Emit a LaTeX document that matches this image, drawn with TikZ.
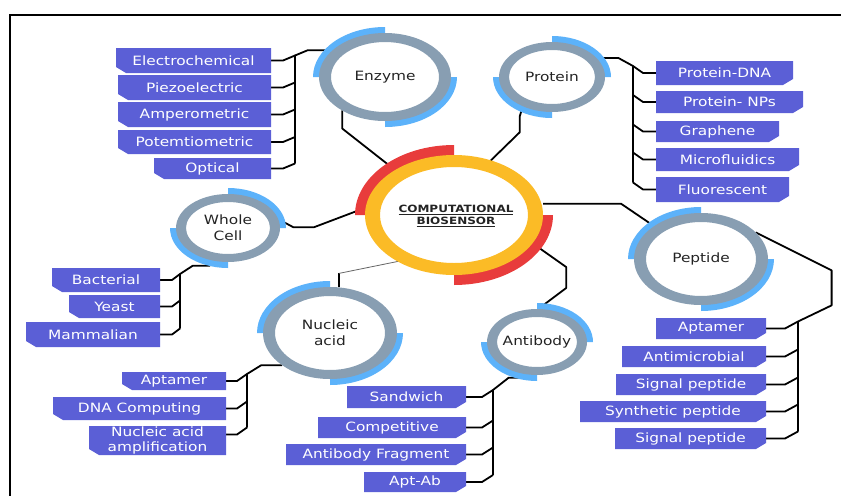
\documentclass[tikz,border=0pt]{standalone}
\usepackage{fontspec}
\setmainfont[FakeStretch=1.2]{DejaVu Sans}
\usetikzlibrary{calc,backgrounds,shapes.geometric}
\definecolor{boxc}{RGB}{91,95,214}
\definecolor{ringg}{RGB}{136,158,178}
\definecolor{ringb}{RGB}{92,178,250}
\definecolor{ringy}{RGB}{251,187,38}
\definecolor{ringr}{RGB}{232,60,60}
\definecolor{txtc}{RGB}{35,35,35}

% box with chamfered bottom-left corner
\newcommand\boxL[6]{%
  \fill[boxc] (#2,#3) -- (#4,#3) -- (#4,#5) -- (#2+10,#5) -- (#2,#5-6) -- cycle;
  \node[boxtxt, minimum width={(#4-#2)*1pt}, minimum height={(#5-#3)*1pt}] (#1) at ({(#2+#4)/2},{(#3+#5)/2}) {#6};}
% box with chamfered bottom-right corner
\newcommand\boxR[6]{%
  \fill[boxc] (#2,#3) -- (#4,#3) -- (#4,#5-6) -- (#4-10,#5) -- (#2,#5) -- cycle;
  \node[boxtxt, minimum width={(#4-#2)*1pt}, minimum height={(#5-#3)*1pt}] (#1) at ({(#2+#4)/2},{(#3+#5)/2}) {#6};}
% ring with two accent arcs: cx cy rx ry tx ty startangle ringcolour arccolour
\def\arcext{6}
\newcommand\ringall[9]{%
  \pgfmathsetmacro\rxo{#3+\arcext}\pgfmathsetmacro\ryo{#4+\arcext}%
  \pgfmathsetmacro\rxi{#3-#5/2}\pgfmathsetmacro\ryi{#4-#6/2}%
  \pgfmathsetmacro\rxr{#3-#5}\pgfmathsetmacro\ryr{#4-#6}%
  \foreach \a in {#7,#7+180}{%
    \fill[#9] ({#1+\rxo*cos(\a)},{#2+\ryo*sin(\a)}) arc[start angle=\a, delta angle=90, x radius=\rxo, y radius=\ryo]
      -- ({#1+\rxi*cos(\a+90)},{#2+\ryi*sin(\a+90)}) arc[start angle=\a+90, delta angle=-90, x radius=\rxi, y radius=\ryi] -- cycle;
  }%
  \fill[#8, even odd rule] (#1,#2) ellipse[x radius=#3, y radius=#4] (#1,#2) ellipse[x radius=\rxr, y radius=\ryr];
}

\begin{document}
\begin{tikzpicture}[x=1pt,y=-1pt,
  boxtxt/.style={inner sep=0pt, outer sep=0pt, text=white, font=\fontsize{12.8}{15.5}\selectfont, align=center},
  ringtxt/.style={ellipse, inner sep=0pt, outer sep=0pt, text=txtc, font=\fontsize{12.8}{16}\selectfont, align=center},
  conn/.style={line width=1.8pt, black, line join=round},
  thinconn/.style={line width=0.8pt, black!60}]
\useasboundingbox (0,0) rectangle (841,496);
\draw[line width=1.4pt] (841,15) -- (10,15) -- (10,496);

% ---- boxes ----
\boxL{e1}{116}{48}{271}{73}{Electrochemical}
\boxL{e2}{118}{75}{271}{100}{Piezoelectric}
\boxL{e3}{118}{102}{271}{127}{Amperometric}
\boxL{e4}{118}{130}{271}{154}{Potemtiometric}
\boxL{e5}{154}{158}{271}{179}{Optical}

\boxR{p1}{656}{61}{793}{85}{Protein-DNA}
\boxR{p2}{656}{91}{803}{113}{Protein- NPs}
\boxR{p3}{656}{121}{779}{142}{Graphene}
\boxR{p4}{656}{148}{799}{171}{Microfluidics}
\boxR{p5}{656}{177}{789}{202}{Fluorescent}

\boxL{w1}{52}{268}{160}{292}{Bacterial}
\boxL{w2}{69}{295}{160}{318}{Yeast}
\boxL{w3}{26}{322}{160}{347}{Mammalian}

\boxL{n1}{122}{372}{226}{390}{Aptamer}
\boxL{n2}{53}{397}{226}{420}{DNA Computing}
\boxL{n3}{89}{426}{226}{455}{Nucleic acid\\amplification}

\boxR{a1}{347}{386}{466}{408}{Sandwich}
\boxR{a2}{318}{417}{466}{438}{Competitive}
\boxR{a3}{286}{444}{466}{465}{Antibody Fragment}
\boxR{a4}{364}{472}{466}{492}{Apt-Ab}

\boxR{q1}{656}{318}{766}{339}{Aptamer}
\boxR{q2}{622}{346}{766}{367}{Antimicrobial}
\boxR{q3}{616}{374}{766}{395}{Signal peptide}
\boxR{q4}{580}{401}{766}{422}{Synthetic peptide}
\boxR{q5}{615}{428}{766}{449}{Signal peptide}

% ---- rings (text nodes) ----
\node[ringtxt, minimum width=132pt, minimum height=88pt] (enz) at (385,77) {Enzyme};
\node[ringtxt, minimum width=106pt, minimum height=70pt] (pro) at (552,77) {Protein};
\node[ringtxt, minimum width=104pt, minimum height=68pt] (wc) at (228,228) {Whole\\Cell};
\node[ringtxt, minimum width=134pt, minimum height=92pt] (na) at (330,333) {Nucleic\\acid};
\node[ringtxt, minimum width=100pt, minimum height=66pt] (ab) at (537,342) {Antibody};
\node[ringtxt, minimum width=134pt, minimum height=92pt] (pep) at (701,259) {Peptide};
\node[ellipse, inner sep=0pt, outer sep=0pt, minimum width=178pt, minimum height=120pt, text=txtc, align=center,
      font=\bfseries\fontsize{10}{12.5}\selectfont] (C) at (456,216) {\underline{COMPUTATIONAL}\\\underline{BIOSENSOR}};

% ---- bus coordinates ----
\coordinate (ebT) at (295,55.5);  \coordinate (ebB) at (295,163.5);
\coordinate (pbT) at (633,66);    \coordinate (pbB) at (633,182.5);
\coordinate (wbT) at (180,274);   \coordinate (wbB) at (180,328.5);
\coordinate (nbT) at (247,374);   \coordinate (nbB) at (247,427.5);
\coordinate (abT) at (493,390);   \coordinate (abB) at (493,475);
\coordinate (qbT) at (798,321.5); \coordinate (qbB) at (798,431.5);

\begin{scope}[on background layer]
  % group trees
  \draw[conn] (enz.153) -- ++(-25,0) -- (ebT) -- (ebB);
  \foreach \n in {e1,e2,e3,e4,e5} {\draw[conn] (\n.east) -- ++(12,0) -- ++(12,-5);}
  \draw[conn] (pro.23) -- ++(22,0) -- (pbT) -- (pbB);
  \foreach \n in {p1,p2,p3,p4,p5} {\draw[conn] (\n.west) -- ++(-13,0) -- ++(-10,-7);}
  \draw[conn] (wc.240) -- ++(0,6) -- ++(-17,0) -- (wbT) -- (wbB);
  \foreach \n in {w1,w2,w3} {\draw[conn] (\n.east) -- ++(12,0) -- ++(8,-6);}
  \draw[conn] (na.214) -- ++(-21,0) -- (nbT) -- (nbB);
  \foreach \n in {n1,n2} {\draw[conn] (\n.east) -- ++(11,0) -- ++(10,-7);}
  \draw[conn] ([yshift=6pt]n3.east) -- ++(11,0) -- ++(10,-7);
  \draw[conn] (ab.259) -- ++(0,3) -- ++(-22,0) -- (abT) -- (abB);
  \foreach \n in {a1,a2,a3,a4} {\draw[conn] (\n.east) -- ++(16,0) -- ++(11,-7);}
  \draw[conn] (pep.26) -- ++(76,38) -- ++(0,35) -- (qbT) -- (qbB);
  \foreach \n in {q1,q2,q3,q4,q5} {\draw[conn] (\n.east) -- ++(19,0) -- ++(13,-7);}
  % links to the centre
  \draw[conn] (enz.218) -- ++(0,18) -- (C.143);
  \draw[conn] (pro.225) -- ++(-3,10) -- ++(0,16) -- (C.58);
  \draw[conn] (wc.10) -- ++(15,8) -- ++(21,0) -- (C.174);
  \draw[conn] (C.8) -- ++(78,0) -- (pep.145);
  \draw[conn] (ab.88) -- ++(28,-21) -- ++(0,-21) -- (C.340);
  \draw[conn] (na.79) -- ++(0,-14) coordinate (nt);
  \draw[thinconn] (nt) -- (C.218);
  % ring graphics
  \def\arcext{6}
  \ringall{385}{77}{66}{44}{12}{9}{180}{ringg}{ringb}
  \ringall{552}{77}{53}{35}{10}{8}{90}{ringg}{ringb}
  \ringall{228}{228}{52}{34}{10}{8}{90}{ringg}{ringb}
  \ringall{330}{333}{67}{46}{12}{9}{180}{ringg}{ringb}
  \ringall{537}{342}{50}{33}{10}{8}{90}{ringg}{ringb}
  \ringall{701}{259}{67}{46}{12}{9}{180}{ringg}{ringb}
  \def\arcext{10}
  \ringall{454}{215}{89}{60}{15}{12}{180}{ringy}{ringr}
\end{scope}
\end{tikzpicture}
\end{document}
